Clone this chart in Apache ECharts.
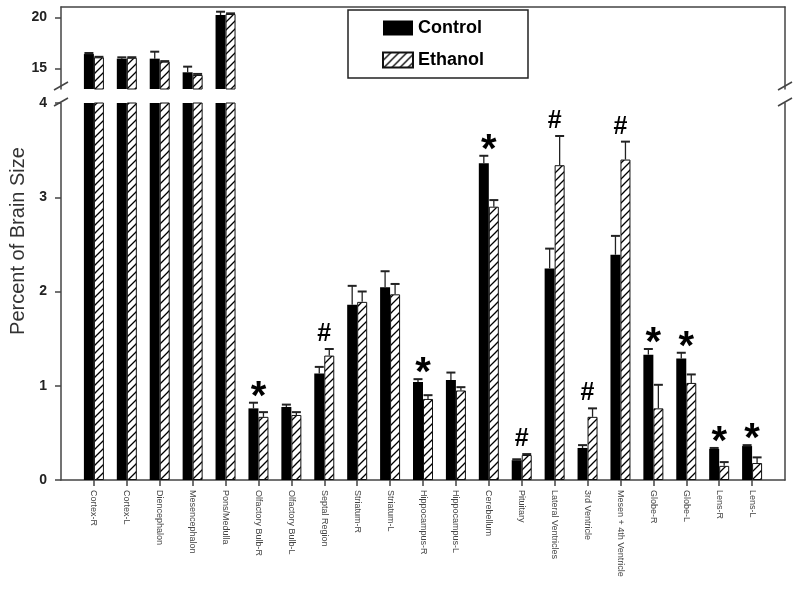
<!DOCTYPE html>
<html>
<head>
<meta charset="utf-8">
<script src="https://cdn.jsdelivr.net/npm/echarts@6/dist/echarts.min.js"></script>
<style>
html,body{margin:0;padding:0;background:#fff;}
#chart{width:800px;height:608px;}
</style>
</head>
<body>
<div id="chart"></div>
<script>
const categories = ["Cortex-R","Cortex-L","Diencephalon","Mesencephalon","Pons/Medulla","Olfactory Bulb-R","Olfactory Bulb-L","Septal Region","Striatum-R","Striatum-L","Hippocampus-R","Hippocampus-L","Cerebellum","Pituitary","Lateral Ventricles","3rd Ventricle","Mesen + 4th Ventricle","Globe-R","Globe-L","Lens-R","Lens-L"];
const controlValues = [16.41, 15.96, 15.96, 14.63, 20.22, 0.76, 0.775, 1.13, 1.86, 2.045, 1.04, 1.06, 3.36, 0.21, 2.245, 0.34, 2.39, 1.33, 1.29, 0.33, 0.36];
const controlErrors = [0.10, 0.13, 0.68, 0.55, 0.32, 0.06, 0.025, 0.07, 0.20, 0.17, 0.03, 0.08, 0.08, 0.01, 0.21, 0.03, 0.20, 0.06, 0.06, 0.01, 0.01];
const ethanolValues = [16.09, 16.05, 15.67, 14.37, 20.32, 0.67, 0.69, 1.32, 1.89, 1.97, 0.86, 0.95, 2.90, 0.265, 3.34, 0.67, 3.40, 0.76, 1.03, 0.15, 0.18];
const ethanolErrors = [0.05, 0.05, 0.05, 0.10, 0.06, 0.05, 0.03, 0.07, 0.11, 0.11, 0.04, 0.035, 0.07, 0.01, 0.31, 0.09, 0.19, 0.25, 0.09, 0.04, 0.06];
const significance = ["","","","","","*","","#","","","*","","*","#","#","#","#","*","*","*","*"];
const topTicks = [15, 20];
const bottomTicks = [0, 1, 2, 3, 4];
const topRange = [13, 21];
const bottomRange = [0, 4];
const yAxisTitle = "Percent of Brain Size";

const FONT = "'Liberation Sans', Arial, sans-serif";
const AXIS_COLOR = '#444';

function makeHatch() {
  const s = 8;
  const c = document.createElement('canvas');
  c.width = s; c.height = s;
  const ctx = c.getContext('2d');
  ctx.fillStyle = '#fff'; ctx.fillRect(0, 0, s, s);
  ctx.strokeStyle = '#000'; ctx.lineWidth = 1.3;
  ctx.beginPath();
  ctx.moveTo(-1, s + 1); ctx.lineTo(s + 1, -1);
  ctx.moveTo(-1, 1); ctx.lineTo(1, -1);
  ctx.moveTo(s - 1, s + 1); ctx.lineTo(s + 1, s - 1);
  ctx.stroke();
  return c;
}
const hatch = { image: makeHatch(), repeat: 'repeat' };

// padded category list so the plotted categories sit one band in from the frame
const xData = [''].concat(categories, ['']);
const pad = (arr) => ['-'].concat(arr, ['-']);

const inTop = (v) => v >= topRange[0] ? v : '-';
const inBottom = (v) => v;

const controlStyle = { color: '#000', borderColor: '#000', borderWidth: 0 };
const ethanolStyle = { color: hatch, borderColor: '#111', borderWidth: 1 };

function xAxisCfg(gridIndex, bottom) {
  return {
    type: 'category', gridIndex, data: xData, boundaryGap: false,
    position: bottom ? 'bottom' : 'top',
    axisLine: { show: true, lineStyle: { color: AXIS_COLOR, width: 1.5 } },
    axisTick: bottom ? { show: true, length: 6, interval: (i) => i > 0 && i < xData.length - 1, lineStyle: { color: AXIS_COLOR, width: 1.5 } } : { show: false },
    axisLabel: bottom ? { show: true, interval: 0, rotate: -90, margin: 10, fontSize: 9, fontFamily: FONT, color: '#444' } : { show: false },
    splitLine: { show: false }
  };
}

function yAxisCfg(gridIndex, range, ticks, right) {
  return {
    type: 'value', gridIndex, min: range[0], max: range[1],
    position: right ? 'right' : 'left',
    axisLine: { show: true, onZero: false, lineStyle: { color: AXIS_COLOR, width: 1.5 } },
    axisTick: right ? { show: false } : { show: true, length: 6, customValues: ticks, lineStyle: { color: AXIS_COLOR, width: 1.5 } },
    axisLabel: right ? { show: false } : { show: true, customValues: ticks, margin: 14, fontSize: 14, fontWeight: 'bold', fontFamily: FONT, color: '#222' },
    splitLine: { show: false }
  };
}

function errorSeries(name, xAxisIndex, yAxisIndex, values, errors, offset, filter) {
  const data = [];
  values.forEach((v, i) => { if (filter(v)) data.push([i + 1, v, errors[i]]); });
  return {
    type: 'custom', name: name + ' error', xAxisIndex, yAxisIndex, clip: true, silent: true, z: 3,
    data,
    renderItem(params, api) {
      const x = api.value(0), v = api.value(1), e = api.value(2);
      const p0 = api.coord([x, v]);
      const p1 = api.coord([x, v + e]);
      const cx = p0[0] + offset;
      const st = { stroke: '#222', lineWidth: 1.3 };
      return {
        type: 'group',
        children: [
          { type: 'line', shape: { x1: cx, y1: p0[1], x2: cx, y2: p1[1] }, style: st },
          { type: 'line', shape: { x1: cx - 4.5, y1: p1[1], x2: cx + 4.5, y2: p1[1] }, style: { stroke: '#222', lineWidth: 2 } }
        ]
      };
    }
  };
}

const markerData = [];
significance.forEach((s, i) => {
  if (s) markerData.push([i + 1, Math.max(controlValues[i] + controlErrors[i], ethanolValues[i] + ethanolErrors[i])]);
});

const option = {
  animation: false,
  backgroundColor: '#fff',
  grid: [
    { left: 61, right: 15, top: 7, height: 82 },
    { left: 61, right: 15, top: 103, height: 377 }
  ],
  legend: {
    orient: 'vertical', left: 348, top: 10,
    data: ['Control', 'Ethanol'],
    icon: 'rect', itemWidth: 30, itemHeight: 15, itemGap: 14,
    padding: [9, 44, 9, 34],
    borderColor: '#222', borderWidth: 1.5,
    textStyle: { fontFamily: FONT, fontWeight: 'bold', fontSize: 18, color: '#000' },
    selectedMode: false
  },
  xAxis: [xAxisCfg(0, false), xAxisCfg(1, true)],
  yAxis: [
    yAxisCfg(0, topRange, topTicks, false),
    yAxisCfg(1, bottomRange, bottomTicks, false),
    yAxisCfg(0, topRange, topTicks, true),
    yAxisCfg(1, bottomRange, bottomTicks, true)
  ],
  series: [
    { type: 'bar', name: 'Control', xAxisIndex: 0, yAxisIndex: 0, data: pad(controlValues.map(inTop)), barWidth: 10, barGap: '0%', itemStyle: controlStyle },
    { type: 'bar', name: 'Ethanol', xAxisIndex: 0, yAxisIndex: 0, data: pad(ethanolValues.map(inTop)), barWidth: 10, barGap: '0%', itemStyle: ethanolStyle },
    { type: 'bar', name: 'Control', xAxisIndex: 1, yAxisIndex: 1, data: pad(controlValues.map(inBottom)), barWidth: 10, barGap: '0%', itemStyle: controlStyle },
    { type: 'bar', name: 'Ethanol', xAxisIndex: 1, yAxisIndex: 1, data: pad(ethanolValues.map(inBottom)), barWidth: 10, barGap: '0%', itemStyle: ethanolStyle },
    errorSeries('Control', 0, 0, controlValues, controlErrors, -5, (v) => v >= topRange[0]),
    errorSeries('Ethanol', 0, 0, ethanolValues, ethanolErrors, 5, (v) => v >= topRange[0]),
    errorSeries('Control', 1, 1, controlValues, controlErrors, -5, (v) => v <= bottomRange[1]),
    errorSeries('Ethanol', 1, 1, ethanolValues, ethanolErrors, 5, (v) => v <= bottomRange[1]),
    {
      type: 'custom', name: 'significance', xAxisIndex: 1, yAxisIndex: 1, silent: true, z: 4,
      data: markerData,
      renderItem(params, api) {
        const x = api.value(0), top = api.value(1);
        const p = api.coord([x, top]);
        const s = significance[x - 1];
        const star = s === '*';
        return {
          type: 'text', x: p[0], y: p[1] - (star ? 5 : 15),
          style: { text: s, fill: '#000', align: 'center', verticalAlign: 'middle',
                   font: 'bold ' + (star ? 40 : 25) + 'px ' + FONT }
        };
      }
    }
  ],
  graphic: [
    { type: 'text', rotation: Math.PI / 2, x: 18, y: 241,
      style: { text: yAxisTitle, fill: '#333', font: '20px ' + FONT, align: 'center', verticalAlign: 'middle' } },
    { type: 'line', shape: { x1: 54, y1: 90, x2: 68, y2: 82 }, style: { stroke: AXIS_COLOR, lineWidth: 1.5 } },
    { type: 'line', shape: { x1: 54, y1: 106, x2: 68, y2: 98 }, style: { stroke: AXIS_COLOR, lineWidth: 1.5 } },
    { type: 'line', shape: { x1: 778, y1: 90, x2: 792, y2: 82 }, style: { stroke: AXIS_COLOR, lineWidth: 1.5 } },
    { type: 'line', shape: { x1: 778, y1: 106, x2: 792, y2: 98 }, style: { stroke: AXIS_COLOR, lineWidth: 1.5 } }
  ]
};

const chart = echarts.init(document.getElementById('chart'), null, { renderer: 'canvas' });
chart.setOption(option);
</script>
</body>
</html>
